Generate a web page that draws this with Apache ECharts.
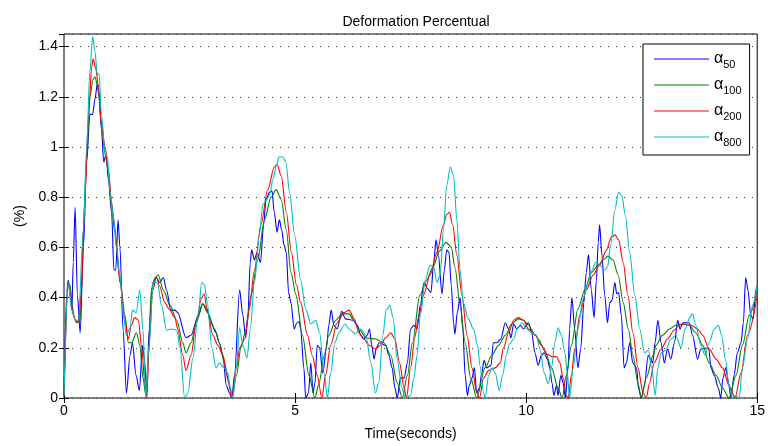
<!DOCTYPE html>
<html>
<head>
    <meta charset="utf-8">
    <title>Deformation Percentual</title>
    <script src="https://cdn.jsdelivr.net/npm/echarts@6/dist/echarts.min.js"></script>
</head>
<body style="margin:0">
    <div id="main" style="width:768px;height:446px;"></div>
    <script type="text/javascript">
        var myChart = echarts.init(document.getElementById('main'));

        // [time (s), deformation (%)]
        var alpha50 = [
            [0, 0.01], [0.06, 0.42], [0.09, 0.47], [0.13, 0.42], [0.17, 0.35], [0.2, 0.54], [0.24, 0.76],
            [0.29, 0.41], [0.35, 0.26], [0.42, 0.6], [0.49, 0.94], [0.56, 1.13], [0.62, 1.13], [0.67, 1.19],
            [0.72, 1.25], [0.76, 1.2], [0.81, 1.07], [0.86, 0.94], [0.91, 0.97], [0.96, 0.87], [1.03, 0.74],
            [1.08, 0.51], [1.12, 0.51], [1.17, 0.71], [1.21, 0.6], [1.28, 0.27], [1.35, 0.02], [1.43, 0.17],
            [1.48, 0.22], [1.56, 0.09], [1.63, 0.03], [1.7, 0.21], [1.75, 0.14], [1.79, 0], [1.84, 0.27],
            [1.92, 0.46], [2.0, 0.48], [2.07, 0.46], [2.15, 0.48], [2.22, 0.43], [2.31, 0.35], [2.4, 0.35],
            [2.46, 0.34], [2.64, 0.24], [2.75, 0.25], [2.91, 0.33], [3.0, 0.375], [3.08, 0.36], [3.18, 0.3],
            [3.29, 0.26], [3.36, 0.22], [3.44, 0.17], [3.51, 0.05], [3.58, 0.02], [3.63, 0], [3.69, 0.09],
            [3.8, 0.43], [3.87, 0.33], [3.93, 0.24], [3.98, 0.33], [4.03, 0.54], [4.06, 0.59], [4.12, 0.55],
            [4.18, 0.58], [4.25, 0.54], [4.32, 0.69], [4.37, 0.79], [4.45, 0.82], [4.5, 0.825], [4.55, 0.74],
            [4.61, 0.66], [4.66, 0.71], [4.71, 0.67], [4.76, 0.61], [4.81, 0.58], [4.86, 0.42], [4.91, 0.38],
            [4.98, 0.275], [5.04, 0.3], [5.09, 0.305], [5.12, 0.275], [5.19, 0.12], [5.23, 0], [5.29, 0.02],
            [5.34, 0.14], [5.39, 0.02], [5.43, 0.06], [5.48, 0.21], [5.53, 0.2], [5.6, 0.1], [5.68, 0.2],
            [5.73, 0.29], [5.78, 0.35], [5.84, 0.29], [5.91, 0.275], [6.01, 0.345], [6.09, 0.315], [6.25, 0.31],
            [6.35, 0.29], [6.42, 0.25], [6.49, 0.235], [6.56, 0.25], [6.61, 0.275], [6.66, 0.21], [6.71, 0.155],
            [6.76, 0.2], [6.82, 0.22], [6.96, 0.21], [7.03, 0.17], [7.1, 0.12], [7.16, 0.04], [7.21, 0],
            [7.28, 0.08], [7.36, 0.08], [7.43, 0.14], [7.5, 0.275], [7.57, 0.29], [7.64, 0.275], [7.71, 0.37],
            [7.79, 0.46], [7.87, 0.435], [7.94, 0.42], [8.0, 0.54], [8.05, 0.63], [8.1, 0.57], [8.18, 0.415],
            [8.23, 0.51], [8.28, 0.59], [8.33, 0.58], [8.38, 0.45], [8.43, 0.3], [8.46, 0.255], [8.51, 0.34],
            [8.57, 0.4], [8.63, 0.275], [8.68, 0.09], [8.73, 0.01], [8.77, 0.05], [8.83, 0.08], [8.88, 0.12],
            [8.93, 0.02], [8.99, 0.04], [9.04, 0.1], [9.09, 0.15], [9.15, 0.12], [9.24, 0.13], [9.29, 0.22],
            [9.37, 0.22], [9.45, 0.235], [9.55, 0.3], [9.62, 0.275], [9.67, 0.24], [9.73, 0.295], [9.8, 0.275],
            [9.87, 0.29], [9.94, 0.275], [10.05, 0.3], [10.12, 0.26], [10.19, 0.18], [10.26, 0.13], [10.33, 0.17],
            [10.39, 0.18], [10.46, 0.155], [10.51, 0.12], [10.56, 0.06], [10.6, 0.01], [10.66, 0.05], [10.69, 0.01],
            [10.75, 0.09], [10.8, 0.06], [10.85, 0], [10.91, 0.13], [10.94, 0.275], [10.99, 0.4], [11.05, 0.275],
            [11.12, 0.12], [11.18, 0.195], [11.25, 0.38], [11.3, 0.5], [11.35, 0.57], [11.41, 0.43], [11.47, 0.32],
            [11.52, 0.47], [11.56, 0.62], [11.59, 0.69], [11.64, 0.57], [11.7, 0.41], [11.76, 0.3], [11.81, 0.38],
            [11.86, 0.39], [11.92, 0.46], [11.96, 0.415], [12.0, 0.42], [12.06, 0.33], [12.12, 0.12], [12.17, 0.14],
            [12.24, 0.22], [12.31, 0.14], [12.39, 0.12], [12.43, 0.04], [12.49, 0], [12.56, 0.05], [12.64, 0.17],
            [12.69, 0.155], [12.74, 0.14], [12.79, 0.22], [12.85, 0.31], [12.92, 0.22], [12.99, 0.14], [13.06, 0.195],
            [13.13, 0.155], [13.21, 0.22], [13.28, 0.31], [13.33, 0.275], [13.39, 0.3], [13.53, 0.3], [13.6, 0.25],
            [13.71, 0.155], [13.78, 0.195], [13.95, 0.2], [14.0, 0.12], [14.07, 0.09], [14.16, 0.04], [14.21, 0],
            [14.26, 0.08], [14.32, 0.12], [14.38, 0.06], [14.43, 0], [14.5, 0.09], [14.57, 0.18], [14.65, 0.22],
            [14.7, 0.3], [14.75, 0.48], [14.8, 0.43], [14.86, 0.33], [14.91, 0.315], [14.97, 0.43], [15.0, 0.45]
        ];
        var alpha100 = [
            [0, 0.01], [0.09, 0.46], [0.13, 0.45], [0.2, 0.33], [0.27, 0.3], [0.35, 0.31], [0.42, 0.67],
            [0.49, 0.96], [0.56, 1.2], [0.63, 1.27], [0.67, 1.28], [0.74, 1.23], [0.81, 1.09], [0.89, 0.97],
            [0.96, 0.91], [1.03, 0.76], [1.1, 0.66], [1.21, 0.47], [1.32, 0.33], [1.39, 0.22], [1.46, 0.22],
            [1.57, 0.26], [1.64, 0.21], [1.71, 0.08], [1.77, 0.01], [1.82, 0.14], [1.89, 0.43], [1.97, 0.48],
            [2.04, 0.49], [2.15, 0.43], [2.29, 0.37], [2.44, 0.31], [2.57, 0.22], [2.64, 0.18], [2.75, 0.22],
            [2.86, 0.3], [3.0, 0.375], [3.11, 0.34], [3.26, 0.275], [3.36, 0.22], [3.47, 0.14], [3.58, 0.05],
            [3.64, 0], [3.73, 0.09], [3.83, 0.2], [3.94, 0.275], [4.05, 0.41], [4.19, 0.55], [4.34, 0.71],
            [4.48, 0.8], [4.59, 0.83], [4.7, 0.79], [4.81, 0.67], [4.91, 0.5], [5.02, 0.41], [5.16, 0.25],
            [5.3, 0.09], [5.43, 0], [5.52, 0.06], [5.63, 0.17], [5.73, 0.25], [5.88, 0.31], [6.02, 0.335],
            [6.17, 0.335], [6.27, 0.31], [6.38, 0.275], [6.53, 0.24], [6.74, 0.235], [6.92, 0.22], [7.07, 0.17],
            [7.21, 0.06], [7.32, 0], [7.43, 0.09], [7.54, 0.22], [7.7, 0.41], [7.85, 0.47], [7.98, 0.52],
            [8.12, 0.585], [8.27, 0.62], [8.38, 0.6], [8.46, 0.52], [8.57, 0.37], [8.68, 0.22], [8.8, 0.08],
            [8.93, 0], [9.11, 0.12], [9.26, 0.17], [9.4, 0.21], [9.55, 0.25], [9.69, 0.295], [9.83, 0.315],
            [9.94, 0.31], [10.05, 0.29], [10.2, 0.25], [10.26, 0.235], [10.4, 0.19], [10.55, 0.12], [10.69, 0.04],
            [10.78, 0], [10.87, 0.09], [10.98, 0.21], [11.12, 0.355], [11.27, 0.43], [11.41, 0.5], [11.56, 0.53],
            [11.7, 0.555], [11.77, 0.565], [11.88, 0.55], [11.99, 0.49], [12.1, 0.38], [12.21, 0.275], [12.31, 0.17],
            [12.42, 0.06], [12.49, 0], [12.6, 0.08], [12.75, 0.17], [12.81, 0.21], [12.95, 0.25], [13.1, 0.275],
            [13.24, 0.29], [13.39, 0.295], [13.53, 0.29], [13.67, 0.26], [13.82, 0.21], [13.96, 0.14], [14.11, 0.09],
            [14.25, 0.04], [14.39, 0], [14.54, 0.09], [14.68, 0.21], [14.83, 0.33], [15.0, 0.43]
        ];
        var alpha200 = [
            [0, 0.01], [0.09, 0.46], [0.17, 0.37], [0.24, 0.31], [0.31, 0.3], [0.38, 0.43], [0.45, 0.8],
            [0.53, 1.12], [0.6, 1.32], [0.63, 1.35], [0.69, 1.31], [0.74, 1.25], [0.81, 1.09], [0.89, 1.0],
            [0.96, 0.9], [1.03, 0.78], [1.08, 0.71], [1.14, 0.6], [1.21, 0.46], [1.32, 0.31], [1.39, 0.235],
            [1.46, 0.29], [1.53, 0.32], [1.61, 0.31], [1.68, 0.2], [1.75, 0.06], [1.79, 0], [1.84, 0.21],
            [1.92, 0.43], [2.0, 0.48], [2.07, 0.445], [2.18, 0.38], [2.29, 0.35], [2.4, 0.32], [2.46, 0.275],
            [2.57, 0.17], [2.64, 0.11], [2.75, 0.17], [2.86, 0.3], [2.97, 0.395], [3.03, 0.415], [3.11, 0.34],
            [3.22, 0.25], [3.33, 0.21], [3.44, 0.17], [3.54, 0.08], [3.63, 0], [3.73, 0.12], [3.8, 0.2],
            [3.91, 0.235], [4.01, 0.355], [4.12, 0.51], [4.26, 0.69], [4.41, 0.83], [4.55, 0.92], [4.61, 0.93],
            [4.7, 0.885], [4.81, 0.74], [4.92, 0.58], [5.03, 0.45], [5.12, 0.38], [5.27, 0.25], [5.37, 0.17],
            [5.48, 0.09], [5.58, 0], [5.66, 0.09], [5.77, 0.21], [5.91, 0.3], [6.06, 0.34], [6.17, 0.35],
            [6.28, 0.315], [6.38, 0.26], [6.49, 0.235], [6.6, 0.21], [6.74, 0.195], [6.85, 0.21], [6.96, 0.24],
            [7.07, 0.26], [7.16, 0.235], [7.26, 0.14], [7.36, 0.04], [7.41, 0], [7.5, 0.12], [7.59, 0.24],
            [7.67, 0.32], [7.78, 0.41], [7.92, 0.49], [8.07, 0.58], [8.21, 0.69], [8.28, 0.73], [8.34, 0.74],
            [8.41, 0.69], [8.5, 0.57], [8.61, 0.41], [8.72, 0.25], [8.83, 0.12], [8.93, 0.02], [8.99, 0],
            [9.08, 0.08], [9.19, 0.11], [9.33, 0.12], [9.44, 0.14], [9.51, 0.2], [9.62, 0.26], [9.73, 0.31],
            [9.83, 0.32], [9.94, 0.31], [10.05, 0.275], [10.2, 0.25], [10.33, 0.21], [10.44, 0.175], [10.56, 0.165],
            [10.66, 0.165], [10.73, 0.14], [10.8, 0.08], [10.87, 0.01], [10.91, 0], [10.98, 0.09], [11.05, 0.195],
            [11.16, 0.33], [11.3, 0.43], [11.45, 0.49], [11.59, 0.53], [11.74, 0.59], [11.84, 0.64], [11.92, 0.65],
            [12.0, 0.63], [12.1, 0.54], [12.2, 0.41], [12.31, 0.26], [12.42, 0.12], [12.53, 0.02], [12.6, 0],
            [12.67, 0.06], [12.77, 0.14], [12.92, 0.195], [13.06, 0.235], [13.2, 0.27], [13.31, 0.29], [13.42, 0.295],
            [13.57, 0.29], [13.71, 0.275], [13.82, 0.25], [13.96, 0.195], [14.11, 0.155], [14.25, 0.12], [14.39, 0.05],
            [14.52, 0], [14.65, 0.1], [14.79, 0.25], [15.0, 0.41]
        ];
        var alpha800 = [
            [0, 0.01], [0.09, 0.46], [0.17, 0.35], [0.24, 0.31], [0.31, 0.31], [0.42, 0.67], [0.49, 1.0],
            [0.56, 1.3], [0.62, 1.44], [0.67, 1.38], [0.72, 1.29], [0.76, 1.29], [0.81, 1.13], [0.89, 0.97],
            [0.94, 0.96], [0.99, 0.83], [1.07, 0.72], [1.14, 0.59], [1.21, 0.49], [1.28, 0.34], [1.35, 0.25],
            [1.43, 0.28], [1.48, 0.35], [1.56, 0.34], [1.64, 0.43], [1.71, 0.27], [1.77, 0], [1.84, 0.21],
            [1.93, 0.46], [2.02, 0.46], [2.11, 0.37], [2.22, 0.27], [2.33, 0.275], [2.44, 0.27], [2.51, 0.2],
            [2.61, 0], [2.68, 0.02], [2.79, 0.16], [2.9, 0.33], [2.98, 0.46], [3.04, 0.45], [3.1, 0.38],
            [3.2, 0.2], [3.29, 0.12], [3.36, 0.14], [3.47, 0.12], [3.54, 0.1], [3.6, 0.04], [3.65, 0],
            [3.73, 0.12], [3.8, 0.28], [3.87, 0.21], [3.96, 0.16], [4.03, 0.275], [4.12, 0.46], [4.23, 0.65],
            [4.3, 0.77], [4.37, 0.785], [4.45, 0.81], [4.52, 0.87], [4.6, 0.93], [4.65, 0.96], [4.74, 0.96],
            [4.8, 0.94], [4.88, 0.82], [4.99, 0.65], [5.12, 0.47], [5.23, 0.355], [5.34, 0.295], [5.45, 0.31],
            [5.53, 0.26], [5.63, 0.1], [5.7, 0], [5.77, 0.1], [5.86, 0.22], [5.95, 0.26], [6.08, 0.295],
            [6.17, 0.275], [6.3, 0.255], [6.42, 0.275], [6.53, 0.25], [6.64, 0.14], [6.74, 0.02], [6.81, 0.06],
            [6.9, 0.25], [6.97, 0.35], [7.05, 0.37], [7.12, 0.32], [7.21, 0.155], [7.31, 0.04], [7.39, 0],
            [7.5, 0.01], [7.57, 0.08], [7.64, 0.17], [7.71, 0.33], [7.82, 0.47], [7.92, 0.53], [8.0, 0.52],
            [8.07, 0.46], [8.14, 0.49], [8.21, 0.67], [8.28, 0.845], [8.36, 0.92], [8.43, 0.885], [8.5, 0.71],
            [8.57, 0.51], [8.64, 0.38], [8.75, 0.315], [8.86, 0.275], [8.95, 0.21], [9.0, 0.13], [9.08, 0.02],
            [9.11, 0], [9.19, 0.09], [9.26, 0.12], [9.33, 0.1], [9.42, 0.03], [9.49, 0.09], [9.57, 0.17],
            [9.64, 0.215], [9.73, 0.235], [9.81, 0.28], [9.91, 0.3], [10.01, 0.275], [10.12, 0.26], [10.22, 0.25],
            [10.3, 0.195], [10.39, 0.1], [10.48, 0.057], [10.55, 0.12], [10.62, 0.22], [10.69, 0.28], [10.76, 0.25],
            [10.84, 0.18], [10.89, 0.1], [10.94, 0], [11.02, 0.12], [11.12, 0.275], [11.23, 0.395], [11.34, 0.46],
            [11.43, 0.51], [11.5, 0.54], [11.59, 0.53], [11.69, 0.51], [11.76, 0.52], [11.83, 0.61], [11.92, 0.75],
            [12.0, 0.82], [12.07, 0.805], [12.15, 0.725], [12.24, 0.58], [12.35, 0.41], [12.46, 0.275], [12.56, 0.18],
            [12.65, 0.19], [12.72, 0.12], [12.79, 0.01], [12.85, 0.12], [12.92, 0.18], [13.02, 0.19], [13.13, 0.235],
            [13.24, 0.25], [13.35, 0.2], [13.44, 0.275], [13.54, 0.32], [13.6, 0.335], [13.67, 0.29], [13.78, 0.21],
            [13.87, 0.17], [13.96, 0.22], [14.07, 0.275], [14.16, 0.29], [14.23, 0.25], [14.31, 0.155], [14.39, 0.05],
            [14.47, 0], [14.52, 0.01], [14.61, 0], [14.68, 0.12], [14.79, 0.235], [14.9, 0.37], [15.0, 0.45]
        ];

        var seriesNames = ['α50', 'α100', 'α200', 'α800'];
        var seriesColors = ['#0000ff', '#008000', '#ff0000', '#00bfbf'];
        var seriesData = [alpha50, alpha100, alpha200, alpha800];

        var fontName = 'Liberation Sans';
        var gridDots = { color: '#333', width: 1, type: [1, 7] };

        var option = {
            animation: false,
            backgroundColor: '#fff',
            textStyle: { fontFamily: fontName, color: '#000' },
            title: {
                text: 'Deformation Percentual',
                left: 411,
                top: 10,
                textAlign: 'center',
                textStyle: { fontFamily: fontName, fontSize: 14, fontWeight: 'normal', color: '#000' }
            },
            grid: {
                left: 64, right: 10, top: 34, bottom: 47,
                show: true, borderColor: '#000', borderWidth: 1
            },
            legend: {
                orient: 'vertical',
                left: 643, top: 44,
                padding: [7, 8, 7, 11],
                itemGap: 7,
                itemWidth: 55,
                itemHeight: 1.2,
                icon: 'rect',
                borderColor: '#000',
                borderWidth: 1,
                borderRadius: 0,
                backgroundColor: '#fff',
                data: seriesNames,
                formatter: function (name) {
                    return '{a|α}{s|' + name.slice(1) + '}';
                },
                textStyle: {
                    rich: {
                        a: { fontFamily: fontName, fontSize: 16, lineHeight: 22, color: '#000' },
                        s: { fontFamily: fontName, fontSize: 11, lineHeight: 11, verticalAlign: 'bottom', color: '#000' }
                    }
                }
            },
            xAxis: [{
                type: 'value',
                min: 0, max: 15, interval: 5,
                name: 'Time(seconds)',
                nameLocation: 'middle',
                nameGap: 29,
                nameTextStyle: { fontFamily: fontName, fontSize: 14, color: '#000' },
                axisLine: { show: false },
                axisTick: { inside: true, length: 5, lineStyle: { color: '#000' } },
                axisLabel: { fontFamily: fontName, fontSize: 14, color: '#000', margin: 6 },
                splitLine: { show: false }
            }, {
                type: 'value', position: 'top',
                min: 0, max: 15, interval: 5,
                axisLine: { show: false },
                axisTick: { inside: true, length: 5, lineStyle: { color: '#000' } },
                axisLabel: { show: false },
                splitLine: { show: false }
            }],
            yAxis: [{
                type: 'value',
                min: 0, max: 1.45, interval: 0.2,
                name: '(%)',
                nameLocation: 'middle',
                nameGap: 31,
                nameTextStyle: { fontFamily: fontName, fontSize: 14, color: '#000' },
                axisLine: { show: false },
                axisTick: { inside: true, length: 5, lineStyle: { color: '#000' } },
                axisLabel: { fontFamily: fontName, fontSize: 14, color: '#000', margin: 6, showMaxLabel: false },
                splitLine: { show: true, lineStyle: gridDots }
            }, {
                type: 'value', position: 'right',
                min: 0, max: 1.45, interval: 0.2,
                axisLine: { show: false },
                axisTick: { inside: true, length: 5, lineStyle: { color: '#000' } },
                axisLabel: { show: false },
                splitLine: { show: false }
            }],
            series: seriesData.map(function (data, idx) {
                return {
                    name: seriesNames[idx],
                    type: 'line',
                    data: data,
                    symbol: 'none',
                    smooth: 0.3,
                    smoothMonotone: 'x',
                    color: seriesColors[idx],
                    lineStyle: { width: 1.1, color: seriesColors[idx] }
                };
            })
        };

        myChart.setOption(option);
    </script>
</body>
</html>
